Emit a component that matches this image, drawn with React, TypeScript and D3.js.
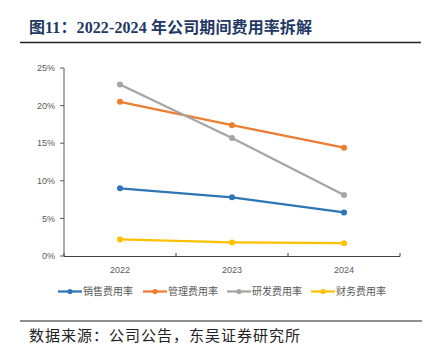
import React from "react";
import * as d3 from "d3";

const years = ["2022", "2023", "2024"];
const seriesNames = ["销售费用率", "管理费用率", "研发费用率", "财务费用率"];
const sales = [9.0, 7.8, 5.8];
const admin = [20.5, 17.4, 14.4];
const rnd = [22.8, 15.7, 8.1];
const finance = [2.2, 1.8, 1.7];
const yTicks = [0, 5, 10, 15, 20, 25];
const colors = ["#2E75B6", "#ED7D31", "#A5A5A5", "#FFC000"];
const title = "图11：2022-2024 年公司期间费用率拆解";
const source = "数据来源：公司公告，东吴证券研究所";

export default function App() {
  const W = 437, H = 359;
  const allSeries = [sales, admin, rnd, finance];
  const x = d3.scaleBand().domain(years).range([64, 400]).padding(0);
  const y = d3.scaleLinear().domain([0, 25]).range([256, 68]);
  const cx = (c: string) => (x(c) as number) + x.bandwidth() / 2;
  const line = d3.line<number>().x((_, i) => cx(years[i])).y((d) => y(d));
  const legendX = [58, 143, 227, 311];
  const sans = "'Noto Sans CJK SC', 'Open Sans', sans-serif";
  return (
    <svg width={W} height={H} style={{ position: "absolute", left: 0, top: 0, background: "#fff" }}>
      <text x={29} y={33} fontSize={16} fontWeight="bold" fill="#1F3864" textLength={283} lengthAdjust="spacing"
        fontFamily="'Liberation Serif', 'Noto Sans CJK SC', serif">{title}</text>
      <line x1={20} x2={421} y1={42.5} y2={42.5} stroke="#222" strokeWidth={1.6} />

      {/* y axis */}
      <line x1={64} x2={64} y1={y(25)} y2={y(0)} stroke="#595959" strokeWidth={1} />
      {yTicks.map((t) => (
        <g key={t}>
          <line x1={60} x2={64} y1={y(t)} y2={y(t)} stroke="#595959" />
          <text x={55} y={y(t)} dy="0.35em" textAnchor="end" fontSize={9} fill="#595959"
            fontFamily="'Liberation Sans', Arial, sans-serif">{t}%</text>
        </g>
      ))}
      {/* x axis */}
      <line x1={64} x2={400} y1={256.5} y2={256.5} stroke="#404040" strokeWidth={1} />
      {[...years.map((c) => x(c) as number), 400].map((v, i) => (
        <line key={i} x1={v} x2={v} y1={253} y2={256.5} stroke="#404040" />
      ))}
      {years.map((c) => (
        <text key={c} x={cx(c)} y={273} textAnchor="middle" fontSize={9} fill="#595959"
          fontFamily="'Liberation Sans', Arial, sans-serif">{c}</text>
      ))}

      {allSeries.map((s, k) => (
        <g key={k}>
          <path d={line(s) || ""} fill="none" stroke={colors[k]} strokeWidth={2.25} />
          {s.map((v, i) => (
            <circle key={i} cx={cx(years[i])} cy={y(v)} r={3} fill={colors[k]} />
          ))}
        </g>
      ))}

      {seriesNames.map((n, k) => (
        <g key={n}>
          <line x1={legendX[k]} x2={legendX[k] + 24} y1={291.5} y2={291.5} stroke={colors[k]} strokeWidth={2.25} />
          <circle cx={legendX[k] + 12} cy={291.5} r={2.6} fill={colors[k]} />
          <text x={legendX[k] + 25} y={291.5} dy="0.35em" fontSize={10} fill="#595959" fontFamily={sans}>{n}</text>
        </g>
      ))}

      <line x1={20} x2={422} y1={321} y2={321} stroke="#222" strokeWidth={1.2} />
      <text x={29} y={341} fontSize={15} fill="#222" textLength={271} lengthAdjust="spacing" fontFamily={sans}>{source}</text>
    </svg>
  );
}
